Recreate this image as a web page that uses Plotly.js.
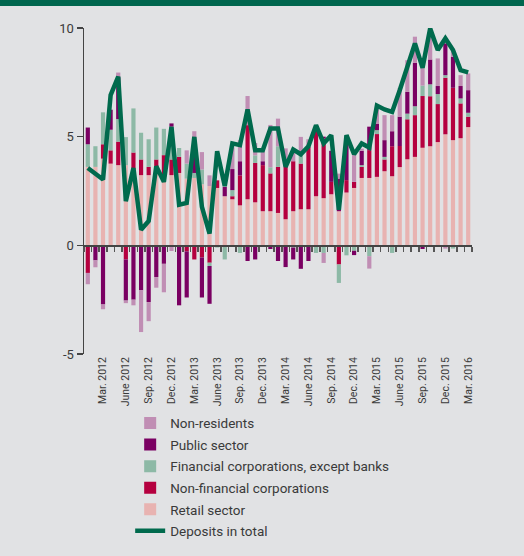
<!DOCTYPE html>
<html>
<head>
<meta charset="utf-8">
<script src="https://cdn.plot.ly/plotly-3.0.1.min.js"></script>
<style>
  html, body { margin: 0; padding: 0; background: #e1e2e4; }
  #chart { width: 524px; height: 556px; }
</style>
</head>
<body>
<div id="chart"></div>
<script>
// Monthly, Jan. 2012 – Mar. 2016 (51 months)
const months = [
  "2012-01","2012-02","2012-03","2012-04","2012-05","2012-06","2012-07","2012-08","2012-09","2012-10","2012-11","2012-12",
  "2013-01","2013-02","2013-03","2013-04","2013-05","2013-06","2013-07","2013-08","2013-09","2013-10","2013-11","2013-12",
  "2014-01","2014-02","2014-03","2014-04","2014-05","2014-06","2014-07","2014-08","2014-09","2014-10","2014-11","2014-12",
  "2015-01","2015-02","2015-03","2015-04","2015-05","2015-06","2015-07","2015-08","2015-09","2015-10","2015-11","2015-12",
  "2016-01","2016-02","2016-03"
];

const retail = [3.61,3.61,3.99,3.76,3.69,3.69,3.53,3.23,3.23,3.61,3.27,3.23,
  3.33,3.07,3.10,2.81,2.73,2.64,2.26,2.12,1.84,2.12,1.98,1.57,
  1.57,1.49,1.20,1.57,1.66,1.66,2.26,2.17,2.35,1.57,2.43,2.64,
  3.10,3.10,3.15,3.41,3.18,3.60,3.96,4.07,4.49,4.56,4.75,5.11,
  4.84,4.93,5.44];

const nonFinancial = [-1.27,0,0.66,0.61,1.08,-0.65,0.74,0.72,0.38,0.34,0.88,0.72,
  0.74,-0.28,-0.65,-0.56,-0.80,0.35,0,0.14,1.38,3.41,1.81,2.12,
  1.74,2.12,2.41,2.30,2.10,2.87,3.04,2.75,0.57,-0.88,0.57,0.28,
  0.51,1.28,1.97,0.54,1.38,0.97,1.84,1.92,2.38,2.30,1.75,2.60,
  2.41,1.60,0.48];

const financial = [1.04,0.95,1.47,0.95,1.04,1.29,2.03,1.23,1.27,1.47,1.21,1.51,
  0.41,0.69,0.23,0.68,-0.15,-0.10,-0.65,0.28,-0.35,0,0.35,0,
  0.28,0.95,0,-0.10,0.38,0,-0.35,-0.35,0,-0.85,-0.46,-0.25,
  0.08,-0.50,0.18,0.12,-0.35,0,0.26,0.41,0.48,0.55,0.46,0.12,
  -0.15,0.23,0.18];

const publicSector = [0.77,-0.69,-2.72,0.92,1.92,-1.89,-2.50,-2.07,-2.61,-1.46,-0.85,0.15,
  -2.76,-2.12,0.74,-1.84,-1.74,0,0.43,0.97,0.65,-0.72,-0.65,0.18,
  -0.17,-0.72,-1.00,-0.55,-1.08,-0.72,0,0.08,1.43,1.50,2.00,-0.20,
  0.66,1.08,0.30,0.77,0.69,1.35,1.00,2.00,-0.17,1.14,0.37,1.46,
  1.43,0.57,1.04];

const nonResidents = [-0.52,-0.32,-0.22,0,0.22,-0.12,-0.26,-1.92,-0.88,-0.49,-1.31,-0.26,
  0,0.61,1.18,0.80,0.49,0,0,1.00,0.97,1.34,0.57,0.58,
  1.95,1.27,0.85,0.38,0.85,0.35,0,-0.46,0,0.23,0,1.23,
  0.10,-0.57,0.69,1.15,0.74,1.31,1.46,1.20,0.80,1.35,1.27,-0.15,
  0.30,0.50,0.77];

const depositsTotal = [3.56,3.30,3.03,6.91,7.76,2.03,3.56,0.72,1.12,3.64,2.92,5.45,
  1.87,1.95,4.99,1.77,0.54,4.33,2.73,4.69,4.61,6.25,4.38,4.38,
  5.38,5.38,3.61,4.41,4.19,4.56,5.53,4.69,5.07,1.64,5.07,4.19,
  4.69,4.50,6.43,6.25,6.14,7.14,8.22,9.29,8.17,9.98,8.99,9.52,
  8.99,8.06,7.96];

const tickMonths = ["2012-03","2012-06","2012-09","2012-12","2013-03","2013-06","2013-09","2013-12",
  "2014-03","2014-06","2014-09","2014-12","2015-03","2015-06","2015-09","2015-12","2016-03"];
const tickLabels = ["Mar. 2012","June 2012","Sep. 2012","Dec. 2012","Mar. 2013","June 2013","Sep. 2013","Dec. 2013",
  "Mar. 2014","June 2014","Sep. 2014","Dec. 2014","Mar. 2015","June 2015","Sep. 2015","Dec. 2015","Mar. 2016"];

const names = ["Retail sector","Non-financial corporations","Financial corporations, except banks","Public sector","Non-residents"];
const seriesList = [retail, nonFinancial, financial, publicSector, nonResidents];
const colors = ["#e8b3b1","#b5003f","#8db9a6","#7a0062","#c08eb4"];
const ranks = [5,4,3,2,1];

const xIdx = months.map((m, i) => i);
const tickIdx = tickMonths.map(m => months.indexOf(m));

const traces = seriesList.map((s, k) => ({
  type: "bar",
  x: xIdx,
  y: s,
  name: names[k],
  marker: { color: colors[k], line: { width: 0 } },
  legendrank: ranks[k],
  legendgroup: "g" + k,
  hoverinfo: "skip"
}));

traces.push({
  type: "scatter",
  mode: "lines",
  x: xIdx,
  y: depositsTotal,
  xaxis: "x2",
  name: "Deposits in total",
  line: { color: "#006a4d", width: 4.5 },
  legendrank: 6,
  legendgroup: "g5",
  hoverinfo: "skip"
});

const bg = "#e1e2e4";
const layout = {
  width: 524,
  height: 556,
  margin: { l: 84, r: 52, t: 28, b: 202, autoexpand: false },
  paper_bgcolor: bg,
  plot_bgcolor: bg,
  barmode: "relative",
  bargap: 0.45,
  font: { family: "Roboto, 'Liberation Sans', Arial, sans-serif", color: "#3a3a3a", size: 13 },
  showlegend: true,
  legend: {
    x: 0.119, xanchor: "left",
    y: -0.165, yanchor: "top",
    bgcolor: "rgba(0,0,0,0)",
    traceorder: "grouped",
    tracegroupgap: 1,
    font: { size: 13.5, color: "#3a3a3a" },
    itemclick: false
  },
  xaxis: {
    range: [-0.5, xIdx.length - 0.5],
    tickmode: "array",
    tickvals: tickIdx,
    ticktext: tickLabels,
    tickangle: -90,
    ticks: "",
    showline: false,
    showgrid: false,
    zeroline: false,
    tickfont: { size: 10.5, color: "#3a3a3a" },
    fixedrange: true
  },
  xaxis2: {
    overlaying: "x",
    anchor: "free",
    position: 1/3,
    side: "bottom",
    range: [-0.5, xIdx.length - 0.5],
    tick0: -0.5,
    dtick: 1,
    ticks: "outside",
    ticklen: 5,
    tickwidth: 1.5,
    tickcolor: "#555555",
    showticklabels: false,
    showline: true,
    linecolor: "#444444",
    linewidth: 1.5,
    showgrid: false,
    zeroline: false,
    fixedrange: true
  },
  yaxis: {
    range: [-5, 10],
    tickvals: [-5, 0, 5, 10],
    ticktext: ["-5", "0", "5", "10"],
    ticks: "outside",
    ticklen: 6,
    tickwidth: 1.2,
    tickcolor: "#444444",
    showline: true,
    linecolor: "#444444",
    linewidth: 1.5,
    showgrid: false,
    zeroline: false,
    tickfont: { size: 13, color: "#3a3a3a" },
    fixedrange: true
  },
  shapes: [{
    type: "rect", xref: "paper", yref: "paper",
    x0: -84/388, x1: 440/388, y0: 348/326, y1: 360/326,
    fillcolor: "#00664e", line: { width: 0 }, layer: "above"
  }]
};

Plotly.newPlot("chart", traces, layout, { staticPlot: true, displayModeBar: false });
</script>
</body>
</html>
